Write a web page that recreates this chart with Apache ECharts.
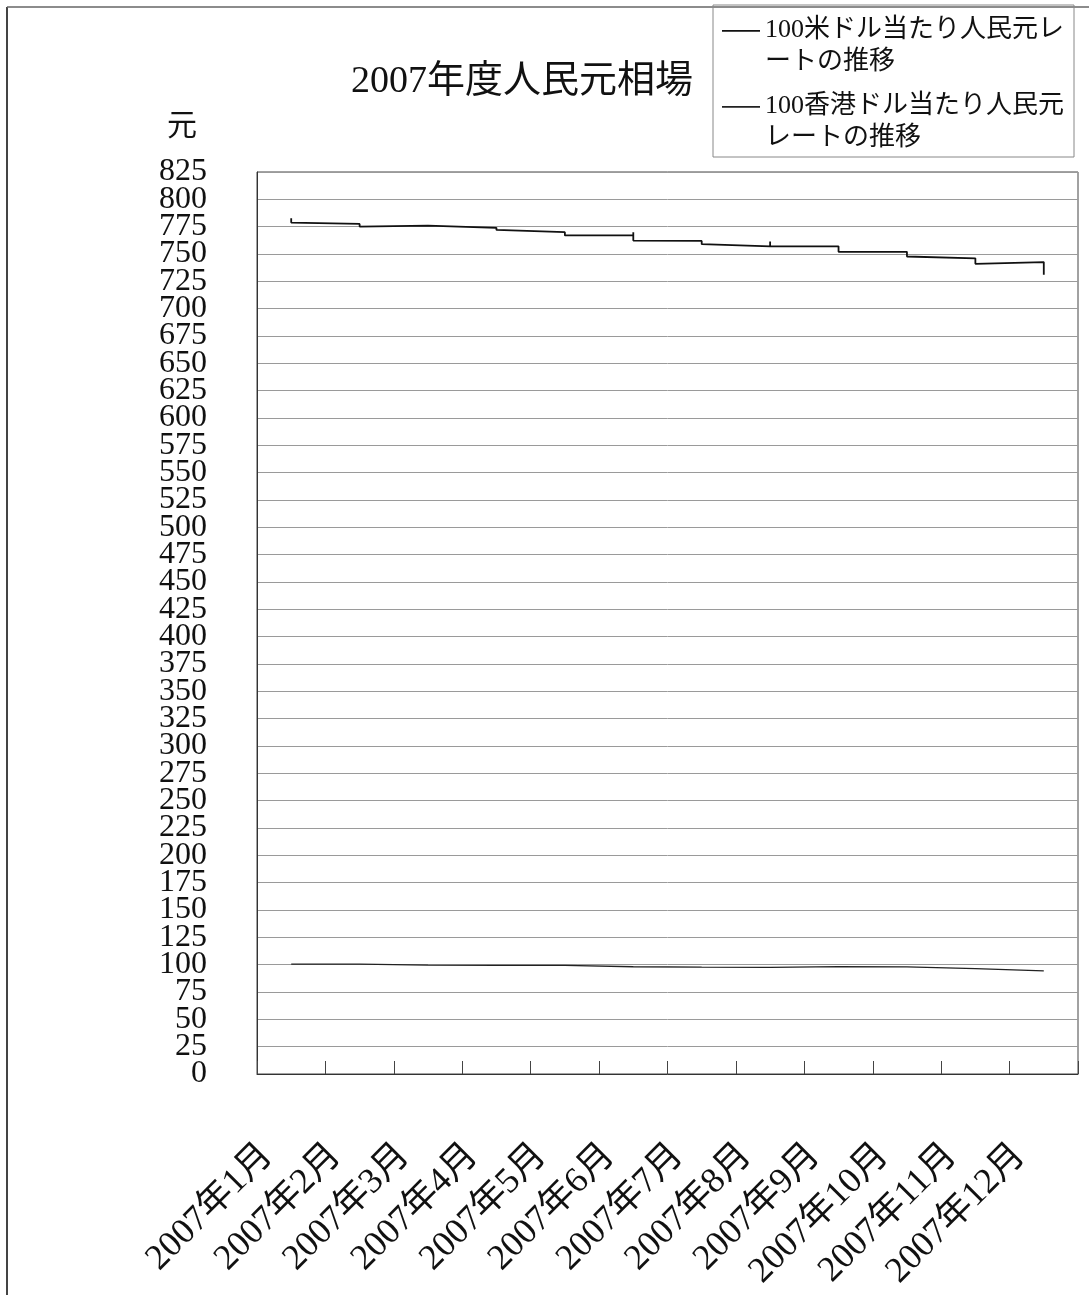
<!DOCTYPE html>
<html>
<head>
<meta charset="utf-8">
<title>2007年度人民元相場</title>
<script src="https://cdn.jsdelivr.net/npm/echarts@6/dist/echarts.min.js"></script>
<style>
  html, body { margin: 0; padding: 0; background: #fff; }
  #chart { width: 1089px; height: 1295px; }
</style>
</head>
<body>
<div id="chart"></div>
<script>
// 月（カテゴリ）
const months = ["2007年1月", "2007年2月", "2007年3月", "2007年4月", "2007年5月", "2007年6月",
  "2007年7月", "2007年8月", "2007年9月", "2007年10月", "2007年11月", "2007年12月"];
const yTicks = { min: 0, max: 825, step: 25 };

// 100米ドル当たり人民元: 各月の中央で段差、次の月の中央までの始値・終値
const usdPeak = [782.8, null, null, null, null, 770, null, 761.4, null, null, null];
const usdStart = [778.7, 775.1, 774.5, 772, 767, 762.3, 759, 757, 752, 747.7, 741];
const usdEnd = [777.5, 776.0, 773.9, 770, 767, 762, 757, 757, 752, 746, 742.6];
const usdLast = 731;

// 100香港ドル当たり人民元
const hkdPeak = [null, null, null, null, null, null, null, null, null, null, null];
const hkdStart = [100.5, 99.6, 99.5, 99.4, 98.3, 98.0, 97.6, 98.3, 98.2, 96.6, 95.0];
const hkdEnd = [100.5, 99.5, 99.4, 99.3, 98.1, 97.7, 97.5, 98.2, 98.0, 96.4, 94.3];
const hkdLast = 94.3;

const seriesNames = ["100米ドル当たり人民元レ\nートの推移", "100香港ドル当たり人民元\nレートの推移"];

// 月の中央 (i + 0.5) を x にして段差状の折れ線を作る
function buildSteps(peak, start, end, last) {
  const pts = [];
  for (let i = 0; i < start.length; i++) {
    if (peak[i] != null) pts.push([i + 0.5, peak[i]]);
    pts.push([i + 0.5, start[i]]);
    pts.push([i + 1.5, end[i]]);
  }
  pts.push([start.length + 0.5, last]);
  return pts;
}

const serif = "'Liberation Serif', 'Noto Sans CJK JP', serif";
const yLabelStyle = { margin: 50, fontFamily: serif, fontSize: 32, color: "#111" };
const chart = echarts.init(document.getElementById("chart"));

// 凡例の線を1行目の高さに置くためのアイコン（下端に見えない点）
const legendIcon = "path://M0,0h38v1.6h-38z M0,31.9h0.01v0.01h-0.01z";

const options = {
  animation: false,
  title: {
    text: "2007年度人民元相場",
    left: 517,
    top: 58,
    textAlign: "center",
    textStyle: { fontFamily: serif, fontSize: 38, fontWeight: "normal", color: "#111" },
  },
  legend: {
    orient: "vertical",
    left: 713,
    top: 5,
    width: 367,
    padding: [9, 10, 3, 9],
    itemGap: 12,
    itemWidth: 38,
    itemHeight: 32,
    borderColor: "#888",
    borderWidth: 1,
    icon: legendIcon,
    textStyle: { fontFamily: serif, fontSize: 26, color: "#111", lineHeight: 32 },
    data: seriesNames,
  },
  grid: {
    left: 257,
    right: 11,
    top: 172,
    bottom: 221,
    show: true,
    borderColor: "#444",
    borderWidth: 1,
  },
  xAxis: [
    {
      type: "category",
      data: months,
      boundaryGap: true,
      axisLine: { show: true, lineStyle: { color: "#333" } },
      axisTick: { show: true, inside: true, interval: 0, length: 13, lineStyle: { color: "#444" } },
      axisLabel: {
        rotate: 45,
        margin: 52,
        padding: [0, 34, 0, 0],
        interval: 0,
        fontFamily: serif,
        fontSize: 36,
        color: "#111",
      },
    },
    {
      type: "value",
      min: 0,
      max: months.length,
      show: false,
    },
  ],
  yAxis: [
    {
      type: "value",
      min: yTicks.min,
      max: yTicks.max,
      interval: yTicks.step,
      name: "元",
      nameLocation: "end",
      nameGap: 30,
      nameTextStyle: { fontFamily: serif, fontSize: 30, color: "#111", align: "right", padding: [0, 60, 0, 0] },
      axisLine: { show: true, lineStyle: { color: "#333" } },
      axisTick: { show: false },
      axisLabel: Object.assign({ showMinLabel: false, showMaxLabel: false }, yLabelStyle),
      splitLine: { lineStyle: { color: "#9a9a9a", width: 1 } },
    },
    {
      // 両端 (0 と 825) の目盛ラベルだけを出す軸
      type: "value",
      position: "left",
      min: yTicks.min,
      max: yTicks.max,
      interval: yTicks.max - yTicks.min,
      axisLine: { show: false },
      axisTick: { show: false },
      splitLine: { show: false },
      axisLabel: Object.assign({ showMinLabel: true, showMaxLabel: true }, yLabelStyle),
    },
  ],
  graphic: [
    { type: "line", shape: { x1: 7, y1: 7, x2: 7, y2: 1295 }, style: { stroke: "#444", lineWidth: 2 } },
    { type: "line", shape: { x1: 7, y1: 7, x2: 1089, y2: 7 }, style: { stroke: "#666", lineWidth: 1.5 } },
  ],
  series: [
    {
      name: seriesNames[0],
      type: "line",
      xAxisIndex: 1,
      showSymbol: false,
      lineStyle: { color: "#111", width: 1.8 },
      itemStyle: { color: "#111" },
      data: buildSteps(usdPeak, usdStart, usdEnd, usdLast),
    },
    {
      name: seriesNames[1],
      type: "line",
      xAxisIndex: 1,
      showSymbol: false,
      lineStyle: { color: "#222", width: 1.3 },
      itemStyle: { color: "#222" },
      data: buildSteps(hkdPeak, hkdStart, hkdEnd, hkdLast),
    },
  ],
};
chart.setOption(options);
</script>
</body>
</html>
